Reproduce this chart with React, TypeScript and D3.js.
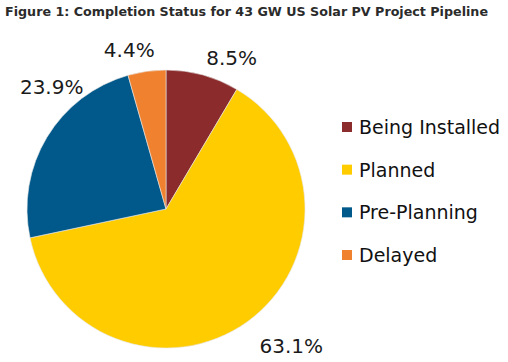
import * as d3 from 'd3';

const categories = ['Being Installed', 'Planned', 'Pre-Planning', 'Delayed'];
const shares = [8.5, 63.1, 23.9, 4.4];
const colors = ['#8B2B2B', '#FFCC00', '#00598A', '#F0812E'];
// small nudges so labels sit where Excel's "best fit" put them
const labelNudge = [[22, 8], [29, 3], [27, -37], [-14, 4]];

const W = 508;
const H = 362;
const cx = 166;
const cy = 209;
const r = 139;

const App = () => {
  const pie = d3.pie<number>().sort(null).value(d => d);
  const arcs = pie(shares);
  const arc = d3.arc<d3.PieArcDatum<number>>().innerRadius(0).outerRadius(r);
  const labelArc = d3.arc<d3.PieArcDatum<number>>().innerRadius(r + 26).outerRadius(r + 26);

  const legendY = d3.scalePoint<string>().domain(categories).range([127, 255]);

  return (
    <svg width={W} height={H} style={{ position: 'absolute', left: 0, top: 0, background: '#fff' }}>
      <text x={5} y={16} fontFamily="DejaVu Sans" fontWeight="bold" fontSize={13}
        fill="#2b2b2b" textLength={483} lengthAdjust="spacingAndGlyphs">
        Figure 1: Completion Status for 43 GW US Solar PV Project Pipeline
      </text>
      <g transform={`translate(${cx},${cy})`}>
        {arcs.map((a, i) => (
          <path key={i} d={arc(a) || ''} fill={colors[i]} stroke="#e6e6e6" strokeWidth={0.6} />
        ))}
        {arcs.map((a, i) => {
          const [x, y] = labelArc.centroid(a);
          return (
            <text key={i} x={x + labelNudge[i][0]} y={y + labelNudge[i][1] + 7}
              textAnchor="middle" fontFamily="DejaVu Sans" fontSize={20} fill="#1a1a1a">
              {shares[i].toFixed(1)}%
            </text>
          );
        })}
      </g>
      {categories.map((c, i) => (
        <g key={c} transform={`translate(0,${legendY(c)})`}>
          <rect x={342} y={-5} width={10} height={10} fill={colors[i]} />
          <text x={359} y={7} fontFamily="DejaVu Sans" fontSize={19} fill="#111">{c}</text>
        </g>
      ))}
    </svg>
  );
};

export default App;
